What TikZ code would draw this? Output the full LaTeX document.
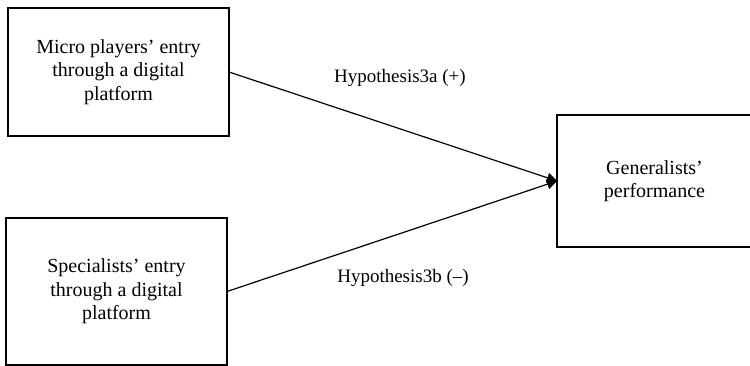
\documentclass[tikz,border=0pt]{standalone}
\usepackage{fontspec}
\setmainfont{Liberation Serif}
\usetikzlibrary{arrows.meta}

\begin{document}
\begin{tikzpicture}[x=1pt,y=-1pt,
  box/.style={draw,line width=1.2pt,align=center,inner sep=0pt,outer sep=0pt,
    font=\fontsize{20}{23.5}\selectfont},
  hyp/.style={font=\fontsize{19}{22}\selectfont}]

\useasboundingbox (0,0) rectangle (750,366);

\node[box,minimum width=221pt,minimum height=128pt] (a1) at (118.5,72) {Micro players’ entry\\through a digital\\platform};
\node[box,minimum width=221pt,minimum height=147pt] (b1) at (116.5,291.5) {Specialists’ entry\\through a digital\\platform};
\node[box,minimum width=195pt,minimum height=132pt] (c1) at (654.5,181) {Generalists’\\performance};

\node[hyp] (h1) at (400,78) {Hypothesis3a (+)};
\node[hyp] (h2) at (403,278) {Hypothesis3b (--)};

\path[-{Triangle[length=10pt,width=10pt]},line width=1.2pt] (a1.east) edge (c1.west) (b1.east) edge (c1.west);

\end{tikzpicture}
\end{document}
